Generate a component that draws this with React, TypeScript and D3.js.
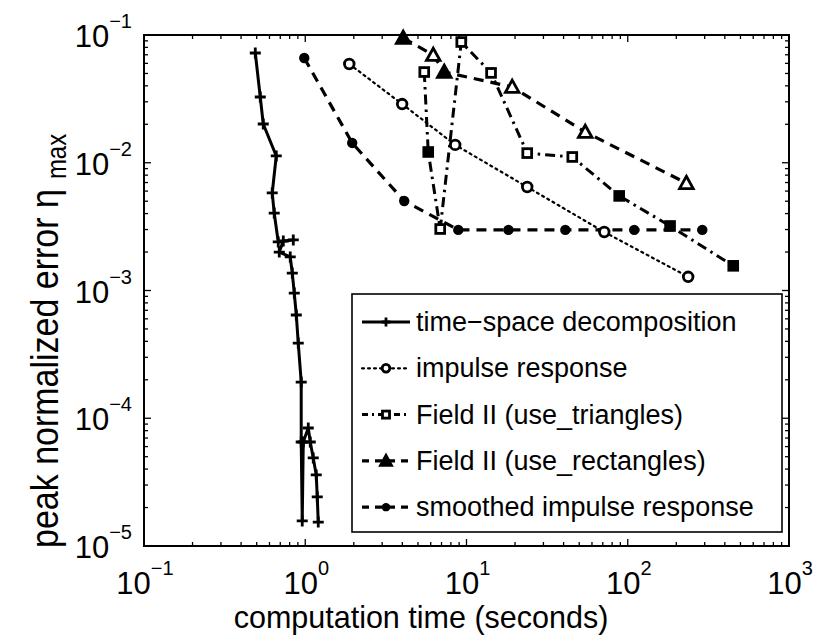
import React from "react";
import * as d3 from "d3";

// ---------- data ----------
const xTickValues = [0.1, 1, 10, 100, 1000];
const xTickExps = ["\u22121", "0", "1", "2", "3"];
const yTickValues = [1e-1, 1e-2, 1e-3, 1e-4, 1e-5];
const yTickExps = ["\u22121", "\u22122", "\u22123", "\u22124", "\u22125"];

const tsdTime = [0.49, 0.526, 0.549, 0.661, 0.624, 0.642, 0.68, 0.843, 0.731, 0.69, 0.807, 0.831, 0.855, 0.88, 0.905, 0.944, 0.944, 0.958, 0.972, 1.044, 1.074, 1.121, 1.17, 1.187, 1.204];
const tsdErr = [0.0723, 0.0327, 0.0201, 0.0113, 0.0058, 0.00404, 0.0024, 0.00249, 0.00244, 0.002, 0.00183, 0.00137, 0.000955, 0.000643, 0.000388, 0.000192, 6.52e-5, 1.57e-5, 6.52e-5, 8.39e-5, 6.52e-5, 4.89e-5, 3.6e-5, 2.42e-5, 1.54e-5];

const irTime = [1.875, 3.99, 8.51, 23.8, 71.5, 237];
const irErr = [0.0593, 0.0288, 0.0138, 0.00646, 0.00287, 0.00128];

const triTime = [5.47, 5.79, 6.87, 9.28, 14.2, 23.8, 45.3, 88.5, 183, 451];
const triErr = [0.0513, 0.01214, 0.00303, 0.0881, 0.0505, 0.0119, 0.0111, 0.0055, 0.0032, 0.00156];
const triFilled = [false, true, false, false, false, false, false, true, true, true];

const rectTime = [4.05, 6.22, 7.28, 19.2, 54.5, 231];
const rectErr = [0.0947, 0.0697, 0.0513, 0.0392, 0.0174, 0.00693];
const rectFilled = [true, false, true, false, false, false];

const sirTime = [0.986, 1.955, 4.11, 8.89, 18.2, 41.0, 109.7, 290];
const sirErr = [0.0661, 0.01429, 0.00502, 0.00298, 0.00298, 0.00298, 0.00298, 0.00298];

const legendLabels = [
  "time\u2212space decomposition",
  "impulse response",
  "Field II (use_triangles)",
  "Field II (use_rectangles)",
  "smoothed impulse response",
];

// ---------- layout ----------
const W = 820;
const H = 639;
const L = 144, R = 789, T = 35, B = 546;
const FONT = "'Liberation Sans', Arial, Helvetica, sans-serif";

type MarkerKind = "plus" | "circle" | "square" | "triangle" | "dot";

function Marker({ kind, x, y, filled, s = 1 }: { kind: MarkerKind; x: number; y: number; filled?: boolean; s?: number }) {
  const sw = 2.8;
  if (kind === "plus") {
    const a = 5.5 * s;
    return <path d={`M${x - a},${y}H${x + a}M${x},${y - a}V${y + a}`} stroke="#000" strokeWidth={sw} fill="none" />;
  }
  if (kind === "circle") {
    return <circle cx={x} cy={y} r={4.8 * s} stroke="#000" strokeWidth={sw} fill="#fff" />;
  }
  if (kind === "dot") {
    return <circle cx={x} cy={y} r={5.2 * s} fill="#000" />;
  }
  if (kind === "square") {
    const h = 4.4 * s;
    return <rect x={x - h} y={y - h} width={2 * h} height={2 * h} stroke="#000" strokeWidth={sw} fill={filled ? "#000" : "#fff"} />;
  }
  const hw = 6.8 * s, hh = 6.8 * s;
  return (
    <path
      d={`M${x},${y - hh}L${x + hw},${y + hh * 0.8}L${x - hw},${y + hh * 0.8}Z`}
      stroke="#000"
      strokeWidth={sw}
      strokeLinejoin="miter"
      fill={filled ? "#000" : "#fff"}
    />
  );
}

export default function App() {
  const x = d3.scaleLog().domain([0.1, 1000]).range([L, R]);
  const y = d3.scaleLog().domain([1e-5, 1e-1]).range([B, T]);

  const line = d3
    .line<[number, number]>()
    .x((d) => x(d[0]))
    .y((d) => y(d[1]));

  const zip = (a: number[], b: number[]) => a.map((v, i) => [v, b[i]] as [number, number]);

  const series = [
    { pts: zip(tsdTime, tsdErr), kind: "plus" as MarkerKind, dash: "", legendDash: "", width: 3, fills: [] as boolean[] },
    { pts: zip(irTime, irErr), kind: "circle" as MarkerKind, dash: "2,4", legendDash: "2,4", width: 2.2, fills: [] as boolean[] },
    { pts: zip(triTime, triErr), kind: "square" as MarkerKind, dash: "10,5,2.5,5", legendDash: "6,4,2,4", width: 3, fills: triFilled },
    { pts: zip(rectTime, rectErr), kind: "triangle" as MarkerKind, dash: "10,7", legendDash: "7,6", width: 3.2, fills: rectFilled },
    { pts: zip(sirTime, sirErr), kind: "dot" as MarkerKind, dash: "10,7", legendDash: "7,6", width: 3.2, fills: [] as boolean[] },
  ];

  const xMinor: number[] = [];
  for (let e = -1; e < 3; e++) for (let k = 2; k <= 9; k++) xMinor.push(k * Math.pow(10, e));
  const yMinor: number[] = [];
  for (let e = -5; e < -1; e++) for (let k = 2; k <= 9; k++) yMinor.push(k * Math.pow(10, e));

  const majorLen = 7, minorLen = 4;

  const legendX0 = 352, legendY0 = 294, legendX1 = 782, legendY1 = 532;
  const legendRowY = (i: number) => 322 + i * 46.3;

  return (
    <div style={{ position: "absolute", left: 0, top: 0 }}>
      <svg width={W} height={H} viewBox={`0 0 ${W} ${H}`} style={{ display: "block", background: "#fff" }}>
        <rect x={0} y={0} width={W} height={H} fill="#fff" />

        <g stroke="#000" strokeWidth={1.3}>
          {xTickValues.map((v, i) => (
            <g key={"xM" + i}>
              <line x1={x(v)} x2={x(v)} y1={B} y2={B - majorLen} />
              <line x1={x(v)} x2={x(v)} y1={T} y2={T + majorLen} />
            </g>
          ))}
          {xMinor.map((v, i) => (
            <g key={"xm" + i}>
              <line x1={x(v)} x2={x(v)} y1={B} y2={B - minorLen} />
              <line x1={x(v)} x2={x(v)} y1={T} y2={T + minorLen} />
            </g>
          ))}
          {yTickValues.map((v, i) => (
            <g key={"yM" + i}>
              <line x1={L} x2={L + majorLen} y1={y(v)} y2={y(v)} />
              <line x1={R} x2={R - majorLen} y1={y(v)} y2={y(v)} />
            </g>
          ))}
          {yMinor.map((v, i) => (
            <g key={"ym" + i}>
              <line x1={L} x2={L + minorLen} y1={y(v)} y2={y(v)} />
              <line x1={R} x2={R - minorLen} y1={y(v)} y2={y(v)} />
            </g>
          ))}
        </g>

        {series.map((s, i) => (
          <path
            key={"l" + i}
            d={line(s.pts) || ""}
            fill="none"
            stroke="#000"
            strokeWidth={s.width}
            strokeDasharray={s.dash || undefined}
            strokeLinejoin="round"
            strokeLinecap={s.kind === "circle" ? "round" : "butt"}
          />
        ))}
        {series.map((s, i) => (
          <g key={"m" + i}>
            {s.pts.map((p, j) => (
              <Marker key={j} kind={s.kind} x={x(p[0])} y={y(p[1])} filled={s.fills[j]} />
            ))}
          </g>
        ))}

        <rect x={L} y={T} width={R - L} height={B - T} fill="none" stroke="#000" strokeWidth={2} />

        {xTickValues.map((v, i) => (
          <text key={"xl" + i} x={x(v) + 1} y={594} textAnchor="middle" fontFamily={FONT} fontSize={31} fill="#000">
            10
            <tspan fontSize={20} dy={-19}>{xTickExps[i]}</tspan>
          </text>
        ))}
        {yTickValues.map((v, i) => (
          <text key={"yl" + i} x={L - 12} y={y(v) + 12} textAnchor="end" fontFamily={FONT} fontSize={31} fill="#000">
            10
            <tspan fontSize={20} dy={-19}>{yTickExps[i]}</tspan>
          </text>
        ))}

        <text x={421} y={628} textAnchor="middle" fontFamily={FONT} fontSize={30.5} fill="#000">
          computation time (seconds)
        </text>
        <g transform={`translate(58,548) scale(1.12,1) rotate(-90)`}>
          <text textAnchor="start" fontFamily={FONT} fontSize={34} fill="#000">
            peak normalized error {"\u03b7"}
            <tspan fontSize={24} dx={10} dy={7}>max</tspan>
          </text>
        </g>

        <rect
          x={legendX0}
          y={legendY0}
          width={legendX1 - legendX0}
          height={legendY1 - legendY0}
          fill="#fff"
          stroke="#000"
          strokeWidth={1.6}
        />
        {series.map((s, i) => {
          const ly = legendRowY(i);
          return (
            <g key={"lg" + i}>
              <line
                x1={362}
                x2={410}
                y1={ly}
                y2={ly}
                stroke="#000"
                strokeWidth={s.width}
                strokeDasharray={s.legendDash || undefined}
                strokeLinecap={s.kind === "circle" ? "round" : "butt"}
              />
              <Marker kind={s.kind} x={386} y={ly} filled={s.kind === "triangle"} s={0.8} />
              <text x={416} y={ly + 9} fontFamily={FONT} fontSize={27} fill="#000">
                {legendLabels[i]}
              </text>
            </g>
          );
        })}
      </svg>
    </div>
  );
}
